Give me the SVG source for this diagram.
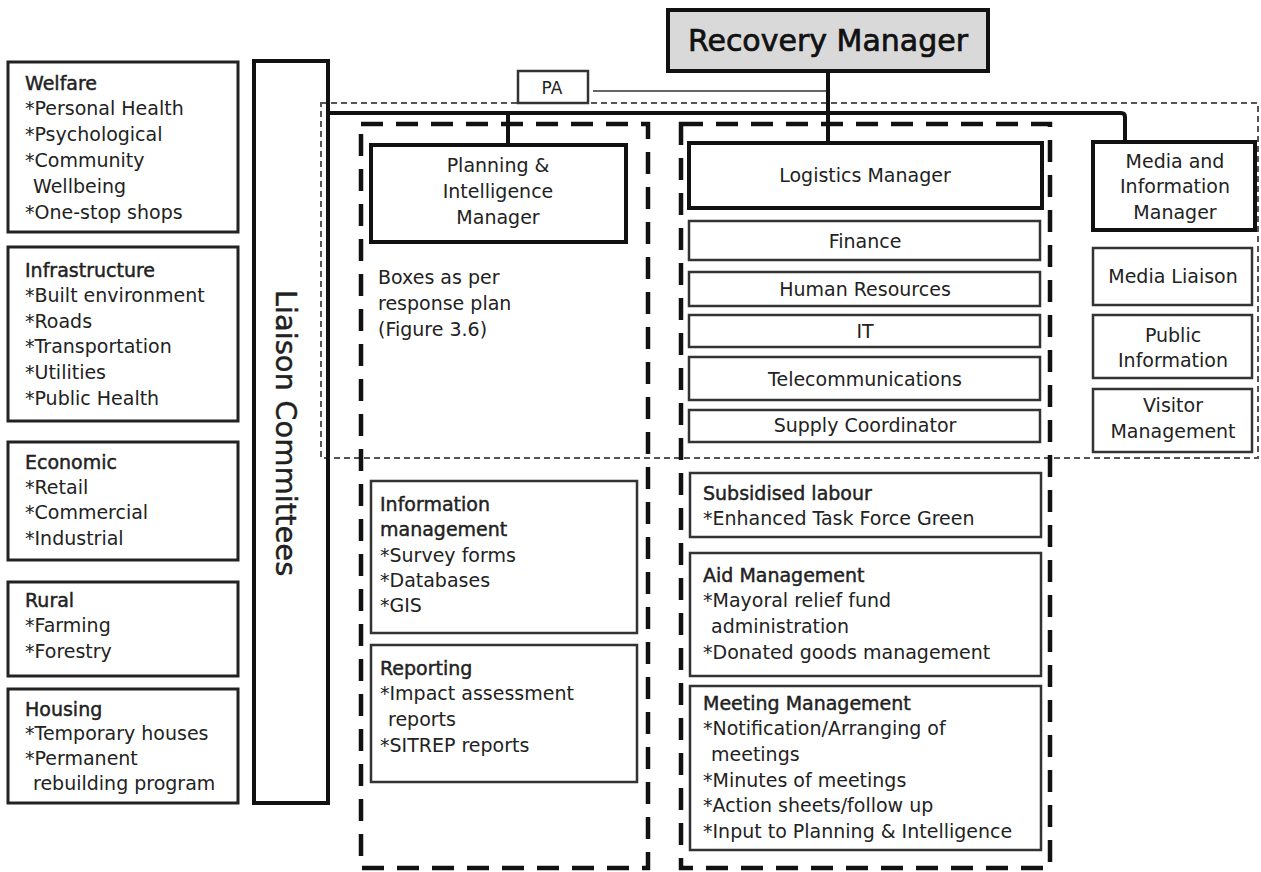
<svg xmlns="http://www.w3.org/2000/svg" width="1261" height="872" viewBox="0 0 1261 872">
  <style>
    text { font-family: "DejaVu Sans", "Liberation Sans", sans-serif; font-size: 19px; fill: #222; }
    .c { text-anchor: middle; }
    .t { stroke: #222; stroke-width: 0.45; }
    .big { font-size: 30px; stroke: #111; stroke-width: 0.7; fill: #111; }
    .liaison { font-size: 29px; stroke: #111; stroke-width: 0.4; }
    .box { fill: #fff; stroke: #222; stroke-width: 3; }
    .sub { fill: #fff; stroke: #333; stroke-width: 2.5; }
    .mgr { fill: #fff; stroke: #111; stroke-width: 4; }
    .frame { fill: none; stroke: #111; stroke-width: 4; }
    .zone { fill: none; stroke: #111; stroke-width: 4.5; stroke-dasharray: 22 13; }
    .scope { fill: none; stroke: #555; stroke-width: 2; stroke-dasharray: 6 4; }
    .link { fill: none; stroke: #111; stroke-width: 4; stroke-linejoin: round; }
  </style>

  <!-- recovery scope and functional columns -->
  <rect class="scope" x="321" y="103" width="937" height="355"/>
  <rect class="zone" x="361" y="124" width="287" height="744"/>
  <rect class="zone" x="681" y="124" width="369" height="744"/>

  <!-- reporting lines -->
  <g id="connectors">
    <path class="link" d="M328 113 H1121 Q1125 113 1125 117 V142"/>
    <path class="link" d="M828 71 V143"/>
    <path class="link" d="M508 113 V145"/>
    <path fill="none" stroke="#333" stroke-width="1.6" d="M593 91 H826"/>
  </g>

  <g id="recovery-manager">
    <rect x="668" y="10" width="320" height="61" fill="#d9d9d9" stroke="#111" stroke-width="4"/>
    <text class="c big" x="828" y="51">Recovery Manager</text>
  </g>

  <g id="pa">
    <rect class="sub" x="518" y="71" width="70" height="32"/>
    <text class="c" x="552" y="94" style="font-size:17px">PA</text>
  </g>

  <!-- liaison task groups -->
  <g id="welfare">
    <rect class="box" x="8" y="62" width="230" height="170"/>
    <text x="25" y="90" class="t">Welfare</text>
    <text x="25" y="115">*Personal Health</text>
    <text x="25" y="141">*Psychological</text>
    <text x="25" y="167">*Community</text>
    <text x="33" y="193">Wellbeing</text>
    <text x="25" y="219">*One-stop shops</text>
  </g>
  <g id="infrastructure">
    <rect class="box" x="8" y="247" width="230" height="174"/>
    <text x="25" y="277" class="t">Infrastructure</text>
    <text x="25" y="302">*Built environment</text>
    <text x="25" y="328">*Roads</text>
    <text x="25" y="353">*Transportation</text>
    <text x="25" y="379">*Utilities</text>
    <text x="25" y="405">*Public Health</text>
  </g>
  <g id="economic">
    <rect class="box" x="8" y="442" width="230" height="118"/>
    <text x="25" y="469" class="t">Economic</text>
    <text x="25" y="494">*Retail</text>
    <text x="25" y="519">*Commercial</text>
    <text x="25" y="545">*Industrial</text>
  </g>
  <g id="rural">
    <rect class="box" x="8" y="582" width="230" height="94"/>
    <text x="25" y="607" class="t">Rural</text>
    <text x="25" y="632">*Farming</text>
    <text x="25" y="658">*Forestry</text>
  </g>
  <g id="housing">
    <rect class="box" x="8" y="689" width="230" height="114"/>
    <text x="25" y="716" class="t">Housing</text>
    <text x="25" y="740">*Temporary houses</text>
    <text x="25" y="765">*Permanent</text>
    <text x="33" y="790">rebuilding program</text>
  </g>

  <g id="liaison-committees">
    <rect class="frame" x="254" y="61" width="74" height="742"/>
    <text class="c liaison" transform="translate(276 433) rotate(90)">Liaison Committees</text>
  </g>

  <!-- planning and intelligence -->
  <g id="planning-manager">
    <rect class="mgr" x="371" y="145" width="255" height="97"/>
    <text class="c" x="498" y="172">Planning &amp;</text>
    <text class="c" x="498" y="198">Intelligence</text>
    <text class="c" x="498" y="224">Manager</text>
  </g>
  <g id="response-note">
    <text x="378" y="284">Boxes as per</text>
    <text x="378" y="310">response plan</text>
    <text x="378" y="336">(Figure 3.6)</text>
  </g>
  <g id="information-management">
    <rect class="sub" x="371" y="481" width="266" height="152"/>
    <text x="380" y="511" class="t">Information</text>
    <text x="380" y="536" class="t">management</text>
    <text x="380" y="562">*Survey forms</text>
    <text x="380" y="587">*Databases</text>
    <text x="380" y="612">*GIS</text>
  </g>
  <g id="reporting">
    <rect class="sub" x="371" y="645" width="266" height="137"/>
    <text x="380" y="675" class="t">Reporting</text>
    <text x="380" y="700">*Impact assessment</text>
    <text x="388" y="726">reports</text>
    <text x="380" y="752">*SITREP reports</text>
  </g>

  <!-- logistics -->
  <g id="logistics-manager">
    <rect class="mgr" x="689" y="143" width="353" height="65"/>
    <text class="c" x="865" y="182">Logistics Manager</text>
  </g>
  <g id="finance">
    <rect class="sub" x="689" y="221" width="351" height="39"/>
    <text class="c" x="865" y="248">Finance</text>
  </g>
  <g id="human-resources">
    <rect class="sub" x="689" y="272" width="351" height="34"/>
    <text class="c" x="865" y="296">Human Resources</text>
  </g>
  <g id="it">
    <rect class="sub" x="689" y="315" width="351" height="32"/>
    <text class="c" x="865" y="338">IT</text>
  </g>
  <g id="telecommunications">
    <rect class="sub" x="689" y="357" width="351" height="43"/>
    <text class="c" x="865" y="386">Telecommunications</text>
  </g>
  <g id="supply-coordinator">
    <rect class="sub" x="689" y="410" width="351" height="32"/>
    <text class="c" x="865" y="432">Supply Coordinator</text>
  </g>
  <g id="subsidised-labour">
    <rect class="sub" x="690" y="473" width="351" height="64"/>
    <text x="703" y="500" class="t">Subsidised labour</text>
    <text x="703" y="525">*Enhanced Task Force Green</text>
  </g>
  <g id="aid-management">
    <rect class="sub" x="690" y="553" width="351" height="123"/>
    <text x="703" y="582" class="t">Aid Management</text>
    <text x="703" y="607">*Mayoral relief fund</text>
    <text x="711" y="633">administration</text>
    <text x="703" y="659">*Donated goods management</text>
  </g>
  <g id="meeting-management">
    <rect class="sub" x="690" y="686" width="351" height="164"/>
    <text x="703" y="710" class="t">Meeting Management</text>
    <text x="703" y="735">*Notification/Arranging of</text>
    <text x="711" y="761">meetings</text>
    <text x="703" y="787">*Minutes of meetings</text>
    <text x="703" y="812">*Action sheets/follow up</text>
    <text x="703" y="838">*Input to Planning &amp; Intelligence</text>
  </g>

  <!-- media and information -->
  <g id="media-manager">
    <rect class="mgr" x="1093" y="142" width="162" height="88"/>
    <text class="c" x="1175" y="168">Media and</text>
    <text class="c" x="1175" y="193">Information</text>
    <text class="c" x="1175" y="219">Manager</text>
  </g>
  <g id="media-liaison">
    <rect class="sub" x="1093" y="248" width="159" height="57"/>
    <text class="c" x="1173" y="283">Media Liaison</text>
  </g>
  <g id="public-information">
    <rect class="sub" x="1093" y="315" width="159" height="63"/>
    <text class="c" x="1173" y="342">Public</text>
    <text class="c" x="1173" y="367">Information</text>
  </g>
  <g id="visitor-management">
    <rect class="sub" x="1093" y="389" width="159" height="63"/>
    <text class="c" x="1173" y="412">Visitor</text>
    <text class="c" x="1173" y="438">Management</text>
  </g>
</svg>
